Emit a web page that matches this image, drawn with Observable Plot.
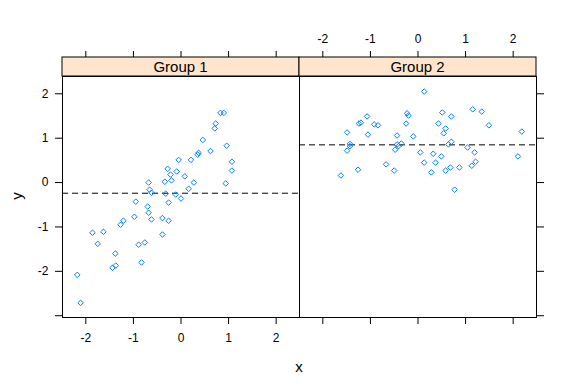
<!DOCTYPE html>
<html><head><meta charset="utf-8">
<script src="https://cdn.jsdelivr.net/npm/d3@7"></script>
<script src="https://cdn.jsdelivr.net/npm/@observablehq/plot@0.6"></script>
<style>
body{margin:0;background:#fff;}
#chart{position:relative;width:574px;height:388px;font-family:"Liberation Sans",Arial,sans-serif;background:#fff;}
#chart svg{position:absolute;top:0;overflow:visible;}
.lbl{position:absolute;font-size:15px;color:#000;line-height:1;}
</style></head><body><div id="chart"></div>
<script>
const groups = ["Group 1", "Group 2"];
const g1x = [0.83,0.90,0.73,0.71,0.46,0.96,0.62,0.37,0.35,-0.05,0.21,1.07,1.07,-0.28,-0.09,-0.22,0.08,-0.20,-0.34,-0.68,0.27,0.94,0.16,-0.66,-0.62,-0.32,-0.11,0.00,-0.95,-0.26,-0.70,-0.68,-0.98,-0.39,-0.62,-0.26,-1.21,-1.27,-1.86,-1.63,-0.39,-1.75,-0.76,-0.89,-1.38,-0.83,-1.44,-1.37,-2.18,-2.11];
const g1y = [1.57,1.57,1.33,1.22,0.96,0.83,0.71,0.67,0.63,0.51,0.51,0.47,0.27,0.31,0.25,0.18,0.14,0.05,0.02,0.00,0.00,-0.02,-0.14,-0.16,-0.23,-0.25,-0.27,-0.36,-0.43,-0.45,-0.54,-0.68,-0.77,-0.80,-0.83,-0.86,-0.86,-0.95,-1.13,-1.11,-1.17,-1.38,-1.35,-1.40,-1.60,-1.80,-1.92,-1.87,-2.08,-2.71];
const g2x = [0.13,1.15,1.34,0.51,-0.23,-0.20,0.70,-1.07,-1.20,-1.24,-0.92,-0.84,-0.25,0.43,1.49,0.58,-1.49,2.18,-1.05,-0.44,0.54,-0.10,0.70,0.64,-1.43,-1.43,-0.35,-0.44,-0.41,-1.49,-0.48,1.04,0.05,0.32,1.19,0.49,2.10,1.21,1.13,0.13,0.37,-0.67,0.68,0.87,-1.26,0.58,-0.50,0.28,-1.62,0.77];
const g2y = [2.05,1.65,1.60,1.58,1.56,1.51,1.49,1.49,1.35,1.33,1.31,1.29,1.33,1.33,1.29,1.22,1.13,1.15,1.08,1.06,1.11,1.04,0.92,0.86,0.87,0.82,0.88,0.86,0.82,0.72,0.74,0.79,0.68,0.65,0.68,0.59,0.59,0.47,0.38,0.45,0.45,0.41,0.34,0.34,0.29,0.27,0.27,0.23,0.16,-0.16];
const refY = [-0.24, 0.85];
const xTicks = [-2, -1, 0, 1, 2];
const yTicks = [-3, -2, -1, 0, 1, 2];
const yLabeled = [-2, -1, 0, 1, 2];
const xLabel = "x", yLabel = "y";

const xDomain = [-2.49, 2.49];
const yDomain = [-3.04, 2.39];
const H = 388, MT = 76, MB = 71, STRIP = 19;
const chart = document.getElementById("chart");
const fmt = d => String(d);
const none = () => "";

function panel(i, xs, ys, ref, cfg) {
  const data = xs.map((x, j) => ({x, y: ys[j]}));
  const marks = [
    Plot.ruleY([ref], {stroke: "#000", strokeDasharray: "6,4", strokeWidth: 1}),
    Plot.dot(data, {x: "x", y: "y", symbol: "diamond2", r: 2.5, stroke: "#0080ff", strokeWidth: 1}),
    Plot.frame({stroke: "#000"}),
    Plot.axisX(xTicks, {anchor: "bottom", tickSize: 7, tickPadding: 9, tickFormat: i === 0 ? fmt : none, label: null}),
    Plot.axisX(xTicks, {anchor: "top", tickSize: 7, tickPadding: 8, dy: -STRIP, tickFormat: i === 1 ? fmt : none, label: null}),
    i === 0
      ? Plot.axisY(yTicks, {anchor: "left", tickSize: 7, tickPadding: 7, tickFormat: d => yLabeled.includes(d) ? fmt(d) : "", label: null})
      : Plot.axisY(yTicks, {anchor: "right", tickSize: 7, tickFormat: none, label: null})
  ];
  const svg = Plot.plot({
    width: cfg.width, height: H,
    marginLeft: cfg.ml, marginRight: cfg.mr, marginTop: MT, marginBottom: MB,
    x: {domain: xDomain},
    y: {domain: yDomain},
    style: {fontSize: "12px", fontFamily: "'Liberation Sans', Arial, sans-serif", background: "transparent", color: "#000"},
    marks
  });
  svg.style.left = cfg.left + "px";
  const sx = svg.scale("x").range;
  const s = d3.select(svg);
  const g = s.append("g");
  g.append("rect").attr("x", sx[0]).attr("y", MT - STRIP).attr("width", sx[1] - sx[0]).attr("height", STRIP)
    .attr("fill", "#ffe5cc").attr("stroke", "#000");
  g.append("text").attr("x", (sx[0] + sx[1]) / 2).attr("y", MT - STRIP / 2).attr("dy", "0.35em")
    .attr("text-anchor", "middle").attr("font-size", "15px").attr("fill", "#000").text(groups[i]);
  chart.appendChild(svg);
}

panel(0, g1x, g1y, refY[0], {width: 300, ml: 62, mr: 1, left: 0});
panel(1, g2x, g2y, refY[1], {width: 276, ml: 1, mr: 38, left: 298});

const xl = document.createElement("div");
xl.className = "lbl"; xl.textContent = xLabel;
xl.style.left = "299px"; xl.style.top = "359px"; xl.style.transform = "translateX(-50%)";
chart.appendChild(xl);
const yl = document.createElement("div");
yl.className = "lbl"; yl.textContent = yLabel;
yl.style.left = "16px"; yl.style.top = "196px"; yl.style.transform = "translate(-50%,-50%) rotate(-90deg)";
chart.appendChild(yl);
</script></body></html>
